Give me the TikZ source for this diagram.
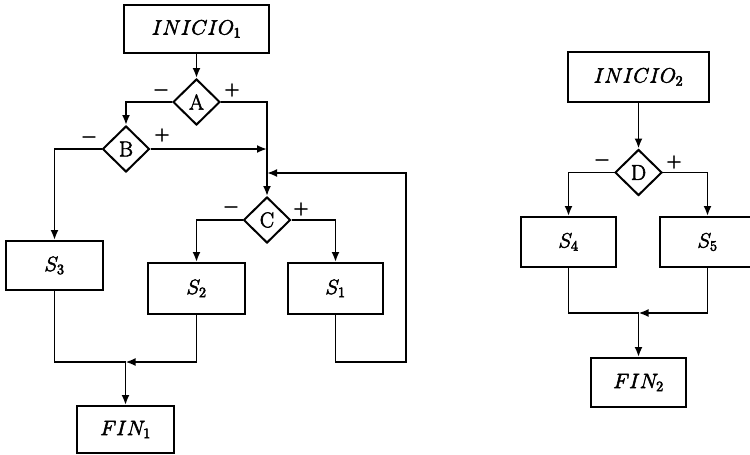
\documentclass[tikz,border=0pt]{standalone}
\usetikzlibrary{shapes.geometric,arrows.meta}
% glyphs filled and stroked, so the letters print with a heavier stroke
\newcommand\inkstroke{\special{pdf:literal 2 Tr 0.55 w}}
\begin{document}
\begin{tikzpicture}[x=1pt,y=-1pt,
  every node/.style={font=\fontsize{19.5}{24}\selectfont\inkstroke},
  box/.style={draw, rectangle, line width=2pt, inner sep=0pt},
  dec/.style={draw, diamond, line width=2pt, inner sep=0pt,
              minimum width=47pt, minimum height=46pt,
              font=\fontsize{21.5}{26}\selectfont\inkstroke},
  flow/.style={line width=1.9pt},
  arr/.style={flow, -{Latex[length=10pt,width=8pt]}},
  sign/.style={inner sep=0pt}]
\useasboundingbox (0,0) rectangle (750,455);

% ---------- first chart ----------
\node[box, minimum width=145pt, minimum height=48pt] (ini1) at (196.5,29) {$INICIO_1$};
\node[dec] (A) at (196.5,102) {A};
\node[dec] (B) at (126,149) {B};
\node[dec] (C) at (267,220) {C};
\node[box, minimum width=97pt, minimum height=49pt] (S3) at (54.5,265.5) {$S_3$};
\node[box, minimum width=97pt, minimum height=51pt] (S2) at (196.5,288.5) {$S_2$};
\node[box, minimum width=95pt, minimum height=51pt] (S1) at (335.5,288.5) {$S_1$};
\node[box, minimum width=97pt, minimum height=47pt] (fin1) at (125.5,429.5) {$FIN_1$};

\node[sign] (Am) at (161,90) {$-$};
\node[sign] (Ap) at (232,90) {$+$};
\node[sign] (Bm) at (89,137) {$-$};
\node[sign] (Bp) at (162,135) {$+$};
\node[sign] (Cm) at (231,207) {$-$};
\node[sign] (Cp) at (301,209) {$+$};

\coordinate (m1) at (125.5,362);
\coordinate (loopR) at (406,362);
\coordinate (loopT) at (406,173);

\draw[arr] (ini1.south) -- (A.north);
\draw[arr] (A.west) -| (B.north);
\draw[arr] (A.east) -| (C.north);
\draw[arr] (B.east) -- (B.east -| C.north);
\draw[arr] (B.west) -| (S3.north);
\draw[arr] (C.west) -| (S2.north);
\draw[arr] (C.east) -| (S1.north);
\draw[arr] (S1.south) |- (loopR) -- (loopT) -- (loopT -| C.north);
\draw[flow] (S3.south) |- (m1);
\draw[arr] (S2.south) |- (m1);
\draw[arr] (m1) -- (fin1.north);

% ---------- second chart ----------
\node[box, minimum width=141pt, minimum height=50pt] (ini2) at (638.5,77) {$INICIO_2$};
\node[dec] (D) at (638.5,172.5) {D};
\node[box, minimum width=95pt, minimum height=50pt] (S4) at (568.5,242) {$S_4$};
\node[box, minimum width=95pt, minimum height=50pt] (S5) at (707.5,242) {$S_5$};
\node[box, minimum width=95pt, minimum height=49pt] (fin2) at (638.5,382.5) {$FIN_2$};

\node[sign] (Dm) at (602,160) {$-$};
\node[sign] (Dp) at (674,162) {$+$};

\coordinate (m2) at (638.5,313);

\draw[arr] (ini2.south) -- (D.north);
\draw[arr] (D.west) -| (S4.north);
\draw[arr] (D.east) -| (S5.north);
\draw[flow] (S4.south) |- (m2);
\draw[arr] (S5.south) |- (m2);
\draw[arr] (m2) -- (fin2.north);
\end{tikzpicture}
\end{document}
